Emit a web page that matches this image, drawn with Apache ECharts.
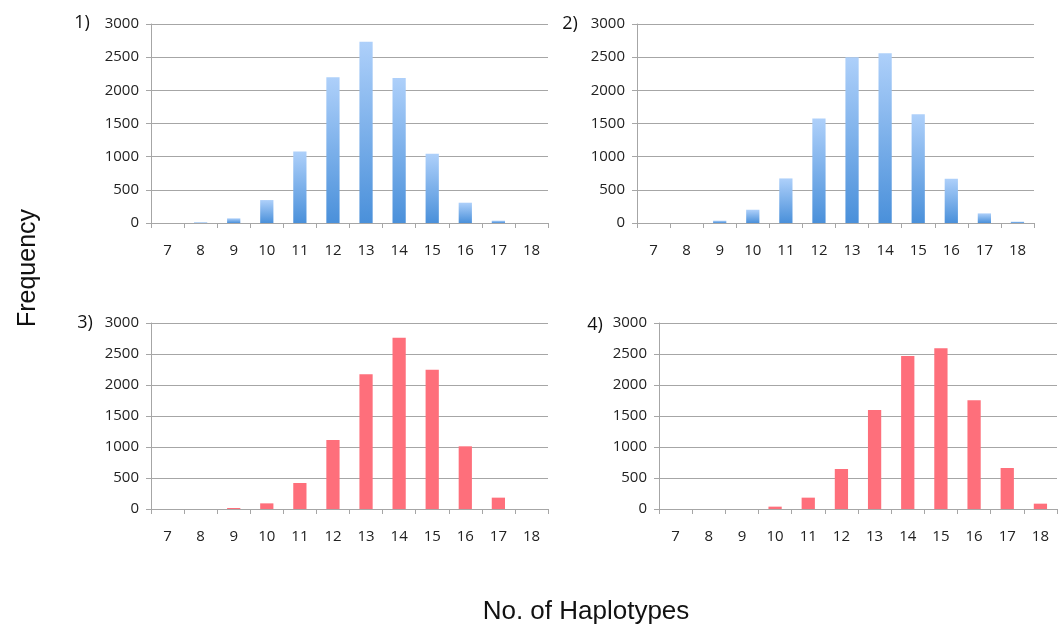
<!DOCTYPE html>
<html>
<head>
<meta charset="utf-8">
<script src="https://cdn.jsdelivr.net/npm/echarts@6/dist/echarts.min.js"></script>
<style>
html,body{margin:0;padding:0;background:#fff;}
#chart{width:1058px;height:632px;}
</style>
</head>
<body>
<div id="chart"></div>
<script>
const categories = ['7','8','9','10','11','12','13','14','15','16','17','18'];
const panel1 = [0, 10, 70, 346, 1079, 2197, 2734, 2187, 1043, 306, 35, 0];
const panel2 = [0, 0, 35, 200, 672, 1575, 2498, 2559, 1640, 667, 145, 20];
const panel3 = [0, 0, 16, 91, 419, 1113, 2172, 2763, 2247, 1011, 183, 0];
const panel4 = [0, 0, 0, 38, 183, 645, 1597, 2468, 2591, 1753, 661, 86];
const panelLabels = ['1)', '2)', '3)', '4)'];
const yTicks = {min: 0, max: 3000, interval: 500};

const chart = echarts.init(document.getElementById('chart'));
const font = '"Open Sans", "DejaVu Sans", sans-serif';
const gray = '#a6a6a6';

const grids = [
  {left: 151, top: 24, width: 397, height: 199},
  {left: 637, top: 24, width: 397, height: 199},
  {left: 151, top: 323, width: 397, height: 186},
  {left: 659, top: 323, width: 398, height: 186}
];
const datasets = [panel1, panel2, panel3, panel4];

const blueGrad = new echarts.graphic.LinearGradient(0, 0, 0, 1, [
  {offset: 0, color: '#aed0fa'},
  {offset: 1, color: '#4a90da'}
]);
const red = '#fe6f7b';

const xAxes = grids.map((g, i) => ({
  type: 'category', gridIndex: i, data: categories,
  axisLine: {lineStyle: {color: gray, width: 1}},
  axisTick: {show: true, length: 5, lineStyle: {color: gray}},
  axisLabel: {color: '#222', fontSize: 15, fontFamily: font, margin: 20}
}));
const yAxes = grids.map((g, i) => ({
  type: 'value', gridIndex: i, min: yTicks.min, max: yTicks.max, interval: yTicks.interval,
  axisLine: {show: true, lineStyle: {color: gray, width: 1}},
  axisTick: {show: true, length: 5, lineStyle: {color: gray}},
  splitLine: {show: true, lineStyle: {color: gray, width: 1}},
  axisLabel: {color: '#222', fontSize: 15, fontFamily: font, margin: 12,
              formatter: v => String(v)}
}));
const series = datasets.map((d, i) => ({
  type: 'bar', xAxisIndex: i, yAxisIndex: i, data: d, barWidth: '40%',
  itemStyle: {color: i < 2 ? blueGrad : red},
  silent: true
}));

const labelPos = [[82, 23], [570, 24], [85, 323], [595, 325]];

chart.setOption({
  animation: false,
  backgroundColor: '#fff',
  grid: grids,
  xAxis: xAxes,
  yAxis: yAxes,
  series: series,
  graphic: [
    ...panelLabels.map((t, i) => ({
      type: 'text', x: labelPos[i][0], y: labelPos[i][1],
      style: {text: t, font: '18px ' + font, fill: '#111', align: 'center', verticalAlign: 'middle'}
    })),
    {type: 'text', x: 28, y: 268, rotation: Math.PI / 2,
     style: {text: 'Frequency', font: '25px "Liberation Sans", Arial, sans-serif', fill: '#111', align: 'center', verticalAlign: 'middle'}},
    {type: 'text', x: 586, y: 612,
     style: {text: 'No. of Haplotypes', font: '26px "Liberation Sans", Arial, sans-serif', fill: '#111', align: 'center', verticalAlign: 'middle'}}
  ]
});
</script>
</body>
</html>
